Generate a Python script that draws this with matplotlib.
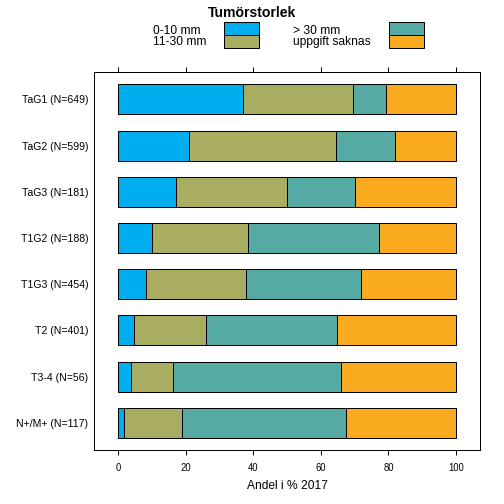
import matplotlib
matplotlib.use("Agg")
import matplotlib.pyplot as plt
from matplotlib.patches import Rectangle

plt.rcParams['font.family'] = ['Liberation Sans', 'DejaVu Sans']

groups = ['TaG1 (N=649)', 'TaG2 (N=599)', 'TaG3 (N=181)', 'T1G2 (N=188)',
          'T1G3 (N=454)', 'T2 (N=401)', 'T3-4 (N=56)', 'N+/M+ (N=117)']
size_0_10 = [36.9, 21.0, 17.1, 10.0, 8.3, 4.7, 3.6, 1.7]
size_11_30 = [32.7, 43.5, 32.9, 28.5, 29.6, 21.3, 12.5, 17.1]
size_over_30 = [9.7, 17.5, 20.2, 38.8, 34.0, 38.8, 50.0, 48.7]
size_missing = [20.7, 18.0, 29.8, 22.7, 28.1, 35.2, 33.9, 32.5]

series = [size_0_10, size_11_30, size_over_30, size_missing]
labels = ['0-10 mm', '11-30 mm', '> 30 mm', 'uppgift saknas']
colors = ['#00AEEF', '#A8AD62', '#55AAA3', '#F9AA1E']

fig = plt.figure(figsize=(7, 7), dpi=72)
ax = fig.add_axes([94.3 / 504, 1 - 450 / 504, (480 - 94.3) / 504, (450 - 71.7) / 504])

ypos = list(range(len(groups)))
left = [0] * len(groups)
for vals, col in zip(series, colors):
    ax.barh(ypos, vals, left=left, height=0.65, color=col, edgecolor='black', linewidth=1)
    left = [l + v for l, v in zip(left, vals)]

ax.set_xlim(-7.14, 107.14)
ax.set_ylim(7.59, -0.6)
ax.set_yticks(ypos)
ax.set_yticklabels(groups, fontsize=10.5)
ax.tick_params(axis='y', length=0, pad=6)
ax.set_xticks([0, 20, 40, 60, 80, 100])
ax.tick_params(axis='x', top=True, bottom=True, direction='out', length=5,
               labelsize=9.5, pad=8, width=1)
for s in ax.spines.values():
    s.set_linewidth(1)
ax.set_xlabel('Andel i % 2017', fontsize=12, labelpad=7)

# legend drawn by hand above the plot
fig.text(252 / 504, 1 - 16.7 / 504, 'Tumörstorlek', fontsize=14, fontweight='bold',
         ha='center', va='baseline')
text_x = [153, 153, 293, 293]
text_base = [34.3, 45, 34.3, 45]
box_x = [224, 224, 389, 389]
box_top = [21.7, 35, 21.7, 35]
for lab, col, tx, tb, bx, bt in zip(labels, colors, text_x, text_base, box_x, box_top):
    fig.text(tx / 504, 1 - tb / 504, lab, fontsize=12, ha='left', va='baseline')
    fig.patches.append(Rectangle((bx / 504, 1 - (bt + 13.3) / 504), 34.5 / 504, 13.3 / 504,
                                 transform=fig.transFigure, facecolor=col,
                                 edgecolor='black', linewidth=1))

fig.savefig('out.png', dpi=72)
